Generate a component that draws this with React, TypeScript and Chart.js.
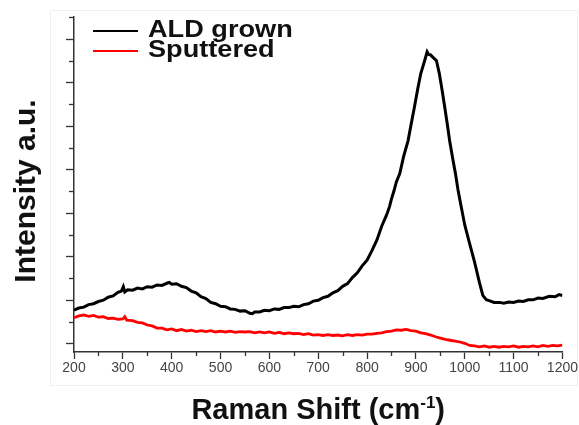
import React, { useEffect, useRef } from "react";
import { Chart, registerables } from "chart.js";

Chart.register(...registerables);

// Raman shift (cm-1) and intensity (a.u.)
const aldShift = [200,210,220,230,240,250,260,270,280,290,297,301,304,310,320,330,340,350,360,370,380,390,395,400,410,420,430,440,450,460,470,480,490,500,510,520,530,540,550,560,565,570,580,590,600,610,620,630,640,650,660,670,680,690,700,710,720,730,740,750,760,770,780,790,800,810,820,830,840,846,850,855,860,867,875,884,890,897,904,910,918,923,926,930,936,942,948,953,959,964,969,975,981,986,990,1000,1010,1020,1030,1037,1044,1050,1060,1071,1080,1090,1100,1110,1120,1130,1140,1150,1160,1173,1185,1193,1200];
const aldIntensity = [0.76,0.81,0.83,0.89,0.91,0.96,0.99,1.06,1.09,1.17,1.2,1.3,1.18,1.23,1.22,1.27,1.25,1.3,1.29,1.34,1.33,1.38,1.4,1.36,1.37,1.31,1.28,1.2,1.16,1.07,1.03,0.94,0.91,0.85,0.84,0.79,0.78,0.74,0.75,0.69,0.68,0.72,0.72,0.76,0.75,0.79,0.78,0.82,0.82,0.85,0.84,0.89,0.91,0.97,0.99,1.05,1.08,1.16,1.21,1.31,1.37,1.51,1.62,1.78,1.91,2.13,2.37,2.69,2.95,3.14,3.32,3.5,3.71,3.9,4.3,4.66,5.02,5.43,5.86,6.2,6.5,6.7,6.64,6.63,6.56,6.5,6.2,5.86,5.43,5.06,4.66,4.27,3.9,3.54,3.3,2.72,2.29,1.87,1.4,1.1,1.0,0.98,0.94,0.94,0.92,0.95,0.94,0.97,0.96,1.0,1.0,1.04,1.03,1.08,1.07,1.12,1.1];

const sputShift = [200,210,220,230,240,250,260,270,280,290,300,304,308,320,330,340,350,360,370,380,390,400,410,420,430,440,450,460,470,480,490,500,510,520,530,540,550,560,570,580,590,600,610,620,630,640,650,660,670,680,690,700,710,720,730,740,750,760,770,780,790,800,810,820,830,840,850,860,870,880,890,900,910,920,930,940,950,960,970,980,990,1000,1010,1020,1030,1040,1050,1060,1070,1080,1090,1100,1110,1120,1130,1140,1150,1160,1170,1180,1190,1200];
const sputIntensity = [0.59,0.63,0.65,0.62,0.64,0.6,0.61,0.57,0.58,0.55,0.56,0.61,0.53,0.52,0.48,0.47,0.42,0.4,0.35,0.35,0.31,0.33,0.29,0.32,0.28,0.3,0.27,0.29,0.27,0.29,0.26,0.28,0.26,0.28,0.25,0.27,0.26,0.27,0.24,0.26,0.24,0.26,0.23,0.25,0.22,0.24,0.22,0.23,0.2,0.22,0.19,0.2,0.18,0.2,0.18,0.19,0.17,0.2,0.18,0.2,0.19,0.21,0.21,0.23,0.24,0.27,0.28,0.31,0.3,0.32,0.29,0.28,0.24,0.22,0.19,0.15,0.12,0.09,0.07,0.05,0.03,0.0,-0.05,-0.06,-0.08,-0.06,-0.09,-0.07,-0.09,-0.07,-0.08,-0.06,-0.09,-0.07,-0.08,-0.06,-0.08,-0.05,-0.07,-0.05,-0.06,-0.04];

const seriesLabels = ["ALD grown", "Sputtered"];
const seriesColors = ["#000000", "#ff0000"];
const xTickValues = [200, 300, 400, 500, 600, 700, 800, 900, 1000, 1100, 1200];
const xTitleMain = "Raman Shift (cm";
const xTitleSup = "-1";
const xTitleEnd = ")";
const yTitle = "Intensity a.u.";

const FONT = '"Liberation Sans", Arial, sans-serif';
const AXIS = "#333333";

const decorPlugin = {
  id: "decor",
  beforeDraw(chart: any) {
    const ctx = chart.ctx;
    ctx.save();
    ctx.strokeStyle = "#f0f0f0";
    ctx.lineWidth = 1;
    ctx.strokeRect(50.5, 10.5, 527, 375);
    ctx.restore();
  },
  afterDraw(chart: any) {
    const ctx = chart.ctx;
    const xs = chart.scales.x;
    const ys = chart.scales.y;
    const area = chart.chartArea;
    ctx.save();
    ctx.strokeStyle = AXIS;
    ctx.lineWidth = 1.3;
    // x minor ticks
    for (let v = xs.min + 50; v < xs.max; v += 100) {
      const px = Math.round(xs.getPixelForValue(v)) + 0.5;
      ctx.beginPath();
      ctx.moveTo(px, area.bottom);
      ctx.lineTo(px, area.bottom + 4);
      ctx.stroke();
    }
    // y ticks (major + minor), no labels
    for (let v = 0; v <= ys.max + 1e-6; v += 0.5) {
      const py = Math.round(ys.getPixelForValue(v)) + 0.5;
      const major = Math.abs(v - Math.round(v)) < 1e-6;
      ctx.beginPath();
      ctx.moveTo(area.left, py);
      ctx.lineTo(area.left - (major ? 8 : 5), py);
      ctx.stroke();
    }
    ctx.restore();

    // legend
    ctx.save();
    const rows = [31, 51];
    chart.data.datasets.forEach((ds: any, i: number) => {
      const y = rows[i];
      ctx.strokeStyle = ds.borderColor;
      ctx.lineWidth = 2.2;
      ctx.beginPath();
      ctx.moveTo(93, y);
      ctx.lineTo(138, y);
      ctx.stroke();
      ctx.save();
      ctx.translate(148, y + 5.5);
      ctx.scale(1.18, 1);
      ctx.fillStyle = "#111";
      ctx.font = `bold 23px ${FONT}`;
      ctx.textBaseline = "alphabetic";
      ctx.textAlign = "left";
      ctx.fillText(ds.label, 0, 0);
      ctx.restore();
    });
    ctx.restore();

    // axis titles
    ctx.save();
    ctx.fillStyle = "#111";
    ctx.textBaseline = "alphabetic";
    ctx.textAlign = "left";
    const mainFont = `bold 29px ${FONT}`;
    const supFont = `bold 17px ${FONT}`;
    ctx.font = mainFont;
    const w1 = ctx.measureText(xTitleMain).width;
    const w3 = ctx.measureText(xTitleEnd).width;
    ctx.font = supFont;
    const w2 = ctx.measureText(xTitleSup).width;
    const total = w1 + w2 + w3;
    const cx = (area.left + area.right) / 2;
    const x0 = cx - total / 2;
    const base = 419;
    ctx.font = mainFont;
    ctx.fillText(xTitleMain, x0, base);
    ctx.font = supFont;
    ctx.fillText(xTitleSup, x0 + w1, base - 11);
    ctx.font = mainFont;
    ctx.fillText(xTitleEnd, x0 + w1 + w2, base);

    ctx.translate(27, 191);
    ctx.rotate(-Math.PI / 2);
    ctx.font = `bold 30px ${FONT}`;
    ctx.textAlign = "center";
    ctx.textBaseline = "middle";
    ctx.fillText(yTitle, 0, 0);
    ctx.restore();
  },
};

export default function App() {
  const ref = useRef<HTMLCanvasElement | null>(null);
  useEffect(() => {
    if (!ref.current) return;
    const chart = new Chart(ref.current, {
      type: "line",
      data: {
        datasets: [
          {
            label: seriesLabels[0],
            data: aldShift.map((x, i) => ({ x, y: aldIntensity[i] })),
            borderColor: seriesColors[0],
            borderWidth: 3,
            pointRadius: 0,
            tension: 0,
          },
          {
            label: seriesLabels[1],
            data: sputShift.map((x, i) => ({ x, y: sputIntensity[i] })),
            borderColor: seriesColors[1],
            borderWidth: 2.8,
            pointRadius: 0,
            tension: 0,
          },
        ],
      },
      options: {
        animation: false,
        responsive: true,
        maintainAspectRatio: false,
        layout: { padding: { top: 17, right: 16, left: 0, bottom: 0 } },
        plugins: { legend: { display: false }, tooltip: { enabled: false } },
        scales: {
          x: {
            type: "linear",
            min: 200,
            max: 1200,
            afterBuildTicks: (scale: any) => {
              scale.ticks = xTickValues.map((v) => ({ value: v }));
            },
            afterFit: (scale: any) => {
              scale.height = 73;
            },
            ticks: {
              color: "#444",
              font: { family: FONT, size: 14 },
              padding: 1,
              maxRotation: 0,
              autoSkip: false,
              callback: (v: any) => String(v),
            },
            grid: {
              drawOnChartArea: false,
              drawTicks: true,
              tickLength: 7,
              tickColor: AXIS,
              tickWidth: 1.3,
            },
            border: { display: true, color: AXIS, width: 1.5 },
          },
          y: {
            type: "linear",
            min: -0.2,
            max: 7.5,
            afterFit: (scale: any) => {
              scale.width = 74;
            },
            ticks: { display: false },
            grid: { display: false },
            border: { display: true, color: AXIS, width: 1.5 },
          },
        },
      },
      plugins: [decorPlugin],
    } as any);
    return () => chart.destroy();
  }, []);
  return (
    <div style={{ position: "fixed", left: 0, top: 0, width: 579, height: 425, background: "#fff" }}>
      <canvas ref={ref} />
    </div>
  );
}
